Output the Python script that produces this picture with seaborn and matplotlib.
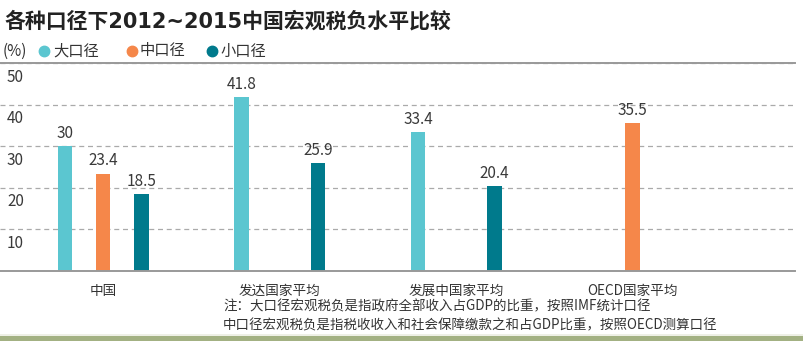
import numpy as np
import pandas as pd
import matplotlib
matplotlib.use("Agg")
import matplotlib.pyplot as plt
import matplotlib.transforms as mtransforms
from matplotlib.patches import Rectangle
from matplotlib.lines import Line2D
import seaborn as sns

# ---- data ----
groups = ["中国", "发达国家平均", "发展中国家平均", "OECD国家平均"]
hue_levels = ["大口径", "中口径", "小口径"]
big = [30, 41.8, 33.4, np.nan]
mid = [23.4, np.nan, np.nan, 35.5]
small = [18.5, 25.9, 20.4, np.nan]
colors = ["#5bc6d0", "#f5874a", "#007a8c"]
yticks = [10, 20, 30, 40, 50]
title = "各种口径下2012~2015中国宏观税负水平比较"
notes = [
    "注：大口径宏观税负是指政府全部收入占GDP的比重，按照IMF统计口径",
    "中口径宏观税负是指税收收入和社会保障缴款之和占GDP比重，按照OECD测算口径",
]

rows = []
for g, a, b, c in zip(groups, big, mid, small):
    for lvl, v in zip(hue_levels, (a, b, c)):
        rows.append({"group": g, "kind": lvl, "value": v})
df = pd.DataFrame(rows)

sns.set_theme(style="white")
fam = ["Noto Sans CJK SC", "DejaVu Sans"]
plt.rcParams["font.family"] = fam
plt.rcParams["axes.unicode_minus"] = False

fig = plt.figure(figsize=(8.04, 3.41), dpi=100)
ax = fig.add_axes([0.0, 1 - 271 / 341, 795 / 804, (271 - 63) / 341])

sns.barplot(data=df.dropna(), x="group", y="value", hue="kind",
            order=groups, hue_order=hue_levels, palette=colors,
            width=0.65, gap=0.62, dodge=True, legend=False, ax=ax,
            saturation=1, linewidth=0, errorbar=None)

for cont in ax.containers:
    ax.bar_label(cont, fmt="{:g}", padding=3, fontsize=11, color="#3a3a3a",
                 fontweight="light")

ax.set_ylim(0, 50)
ax.set_xlim(-0.585, 3.92)
ax.set_xlabel("")
ax.set_ylabel("")
ax.set_yticks(yticks)
ax.set_yticklabels([str(t) for t in yticks])
ax.tick_params(axis="y", length=0, pad=-5, labelsize=11, labelcolor="#3a3a3a")
ax.tick_params(axis="x", length=0, pad=9, labelsize=9.8, labelcolor="#333333")
offset = mtransforms.ScaledTranslation(0, -4 / 72, fig.dpi_scale_trans)
for lab in ax.get_yticklabels():
    lab.set_ha("left")
    lab.set_va("top")
    lab.set_transform(lab.get_transform() + offset)

ax.grid(axis="y", linestyle=(0, (4, 3)), color="#aaaaaa", linewidth=0.9)
ax.set_axisbelow(True)
for s in ["left", "right"]:
    ax.spines[s].set_visible(False)
for s in ["top", "bottom"]:
    ax.spines[s].set_visible(True)
    ax.spines[s].set_color("#999999")
    ax.spines[s].set_linewidth(1.4)

# title (wide bold digits from DejaVu, CJK from Noto)
fig.text(5 / 804, 1 - 21 / 341, title, fontsize=15, fontweight="bold",
         family=["DejaVu Sans", "Noto Sans CJK SC"],
         color="#222222", ha="left", va="center")

# legend row
ly = 1 - 51 / 341
fig.text(3 / 804, ly, "(%)", fontsize=11, color="#333333", ha="left", va="center")
for cx, tx, lbl, col in [(44, 53, "大口径", colors[0]),
                          (132, 140, "中口径", colors[1]),
                          (212, 220, "小口径", colors[2])]:
    fig.add_artist(Line2D([cx / 804], [ly], marker="o", markersize=7.5,
                          color=col, linestyle="none", transform=fig.transFigure))
    fig.text(tx / 804, ly, lbl, fontsize=11, color="#333333",
             ha="left", va="center")

# notes
for i, line in enumerate(notes):
    fig.text(223 / 804, 1 - (306 + 19 * i) / 341, line, fontsize=9.7,
             color="#333333", ha="left", va="center")

# bottom green band
fig.add_artist(Rectangle((0, 0), 1, 5.5 / 341, transform=fig.transFigure,
                         facecolor="#a3b183", edgecolor="none", zorder=10))
fig.add_artist(Rectangle((0, 5.5 / 341), 1, 1.2 / 341, transform=fig.transFigure,
                         facecolor="#eef0e6", edgecolor="none", zorder=10))

fig.savefig("out.png", dpi=100)
